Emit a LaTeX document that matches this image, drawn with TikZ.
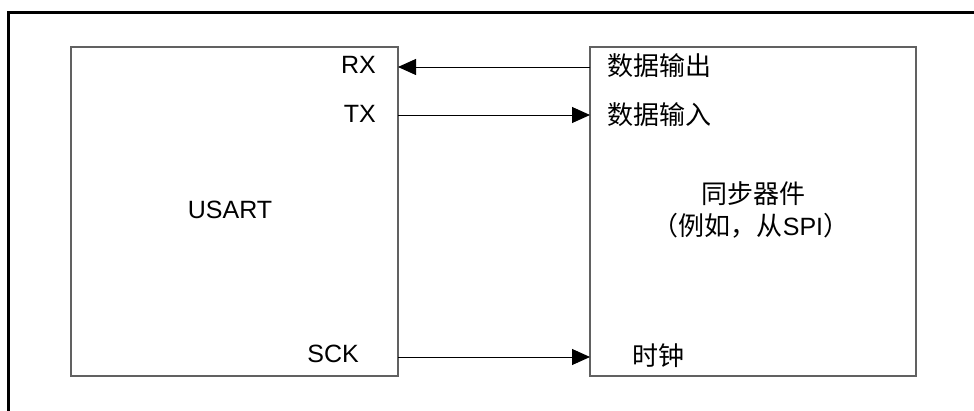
\documentclass[tikz,border=0pt]{standalone}
\usepackage{fontspec}
\setmainfont{Liberation Sans}
\newfontfamily\cjk{Noto Sans CJK SC}
\usetikzlibrary{arrows.meta}
\begin{document}
\begin{tikzpicture}[x=1pt,y=1pt,
  frame/.style={line width=3pt,black},
  blockbox/.style={draw=black!62,line width=1.4pt,rectangle,inner sep=0pt,outer sep=0pt},
  lbl/.style={inner sep=0pt,font=\fontsize{25}{30}\selectfont},
  cjklbl/.style={inner sep=0pt,font=\fontsize{26}{31}\selectfont\cjk},
  arr/.style={line width=0.9pt,black,-{Triangle[length=18pt,width=16pt]}}]
\useasboundingbox (0,0) rectangle (974,-411);
\draw[frame] (975,-13) -| (8.5,-412);
\node[blockbox,minimum width=327pt,minimum height=329pt] (usart) at (234.5,-211.5) {};
\node[blockbox,minimum width=326pt,minimum height=329pt] (dev) at (753,-211.5) {};
\node[lbl] (usartl) at (230,-210) {USART};
\node[lbl,anchor=east] (rx) at (376,-65) {RX};
\node[lbl,anchor=east] (tx) at (376,-114) {TX};
\node[lbl,anchor=east] (sck) at (359,-354) {SCK};
\node[cjklbl,anchor=west] (dout) at (607,-66) {数据输出};
\node[cjklbl,anchor=west] (din) at (607,-115) {数据输入};
\node[cjklbl] (dev1) at (753,-194) {同步器件};
\node[cjklbl] (dev2) at (751,-226) {（例如，从{\fontsize{25}{30}\selectfont\rmfamily SPI}）};
\node[cjklbl,anchor=west] (clk) at (632,-356) {时钟};
\coordinate (yrx) at (0,-67);
\coordinate (ytx) at (0,-115);
\coordinate (ysck) at (0,-357);
\draw[arr] (dev.west |- yrx) -- (usart.east |- yrx);
\draw[arr] (usart.east |- ytx) -- (dev.west |- ytx);
\draw[arr] (usart.east |- ysck) -- (dev.west |- ysck);
\end{tikzpicture}
\end{document}
